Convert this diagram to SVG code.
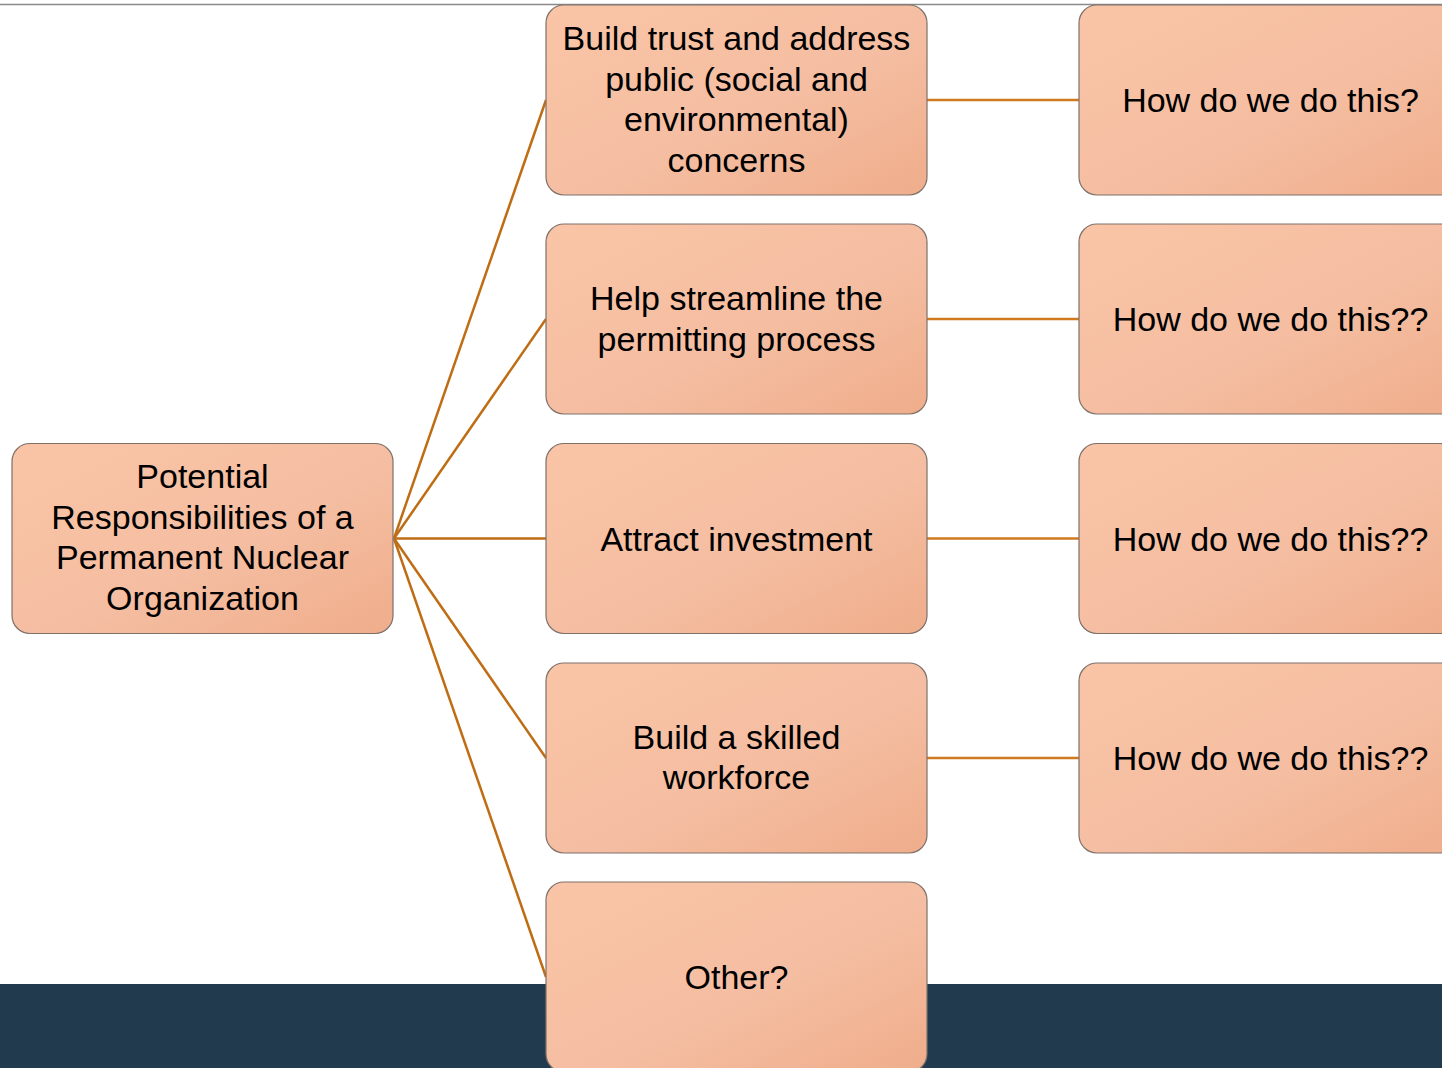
<svg xmlns="http://www.w3.org/2000/svg" width="1442" height="1068" viewBox="0 0 1442 1068">
<defs>
<linearGradient id="g" x1="0" y1="0" x2="1" y2="1">
<stop offset="0" stop-color="#FAC4A6"/>
<stop offset="0.55" stop-color="#F5BEA2"/>
<stop offset="1" stop-color="#EFAD8B"/>
</linearGradient>
<style>
.box{fill:url(#g);stroke:#7E716A;stroke-width:1.2}
.t{font-family:"Liberation Sans",Arial,sans-serif;font-size:34px;fill:#000;text-anchor:middle}
.c{stroke:#BF6D14;stroke-width:2.5;fill:none}
.h{stroke:#CF7A1F;stroke-width:2.5;fill:none}
</style>
</defs>
<rect x="0" y="0" width="1442" height="1068" fill="#fff"/>
<line x1="0" y1="4.5" x2="1442" y2="4.5" stroke="#8a8a8a" stroke-width="1.5"/>
<rect x="0" y="984" width="1442" height="84" fill="#213A4E"/>
<g id="connectors">
<line class="c" x1="394" y1="538.5" x2="546" y2="100"/>
<line class="c" x1="394" y1="538.5" x2="546" y2="319"/>
<line class="c" x1="394" y1="538.5" x2="546" y2="538.5"/>
<line class="c" x1="394" y1="538.5" x2="546" y2="758"/>
<line class="c" x1="394" y1="538.5" x2="546" y2="977"/>
<line class="h" x1="927" y1="100" x2="1079" y2="100"/>
<line class="h" x1="927" y1="319" x2="1079" y2="319"/>
<line class="h" x1="927" y1="538.5" x2="1079" y2="538.5"/>
<line class="h" x1="927" y1="758" x2="1079" y2="758"/>
</g>
<g id="root">
<rect class="box" x="12" y="443.5" width="381" height="190" rx="18"/>
<text class="t" x="202.5" y="488">Potential</text>
<text class="t" x="202.5" y="528.5">Responsibilities of a</text>
<text class="t" x="202.5" y="569">Permanent Nuclear</text>
<text class="t" x="202.5" y="609.5">Organization</text>
</g>
<g id="n1">
<rect class="box" x="546" y="5" width="381" height="190" rx="18"/>
<text class="t" x="736.5" y="50">Build trust and address</text>
<text class="t" x="736.5" y="90.5">public (social and</text>
<text class="t" x="736.5" y="131">environmental)</text>
<text class="t" x="736.5" y="171.5">concerns</text>
</g>
<g id="n2">
<rect class="box" x="546" y="224" width="381" height="190" rx="18"/>
<text class="t" x="736.5" y="310">Help streamline the</text>
<text class="t" x="736.5" y="350.5">permitting process</text>
</g>
<g id="n3">
<rect class="box" x="546" y="443.5" width="381" height="190" rx="18"/>
<text class="t" x="736.5" y="550.5">Attract investment</text>
</g>
<g id="n4">
<rect class="box" x="546" y="663" width="381" height="190" rx="18"/>
<text class="t" x="736.5" y="748.5">Build a skilled</text>
<text class="t" x="736.5" y="789">workforce</text>
</g>
<g id="n5">
<rect class="box" x="546" y="882" width="381" height="190" rx="18"/>
<text class="t" x="736.5" y="989">Other?</text>
</g>
<g id="q1">
<rect class="box" x="1079" y="5" width="381" height="190" rx="18"/>
<text class="t" x="1270.5" y="112">How do we do this?</text>
</g>
<g id="q2">
<rect class="box" x="1079" y="224" width="381" height="190" rx="18"/>
<text class="t" x="1270.5" y="331">How do we do this??</text>
</g>
<g id="q3">
<rect class="box" x="1079" y="443.5" width="381" height="190" rx="18"/>
<text class="t" x="1270.5" y="550.5">How do we do this??</text>
</g>
<g id="q4">
<rect class="box" x="1079" y="663" width="381" height="190" rx="18"/>
<text class="t" x="1270.5" y="770">How do we do this??</text>
</g>
</svg>
